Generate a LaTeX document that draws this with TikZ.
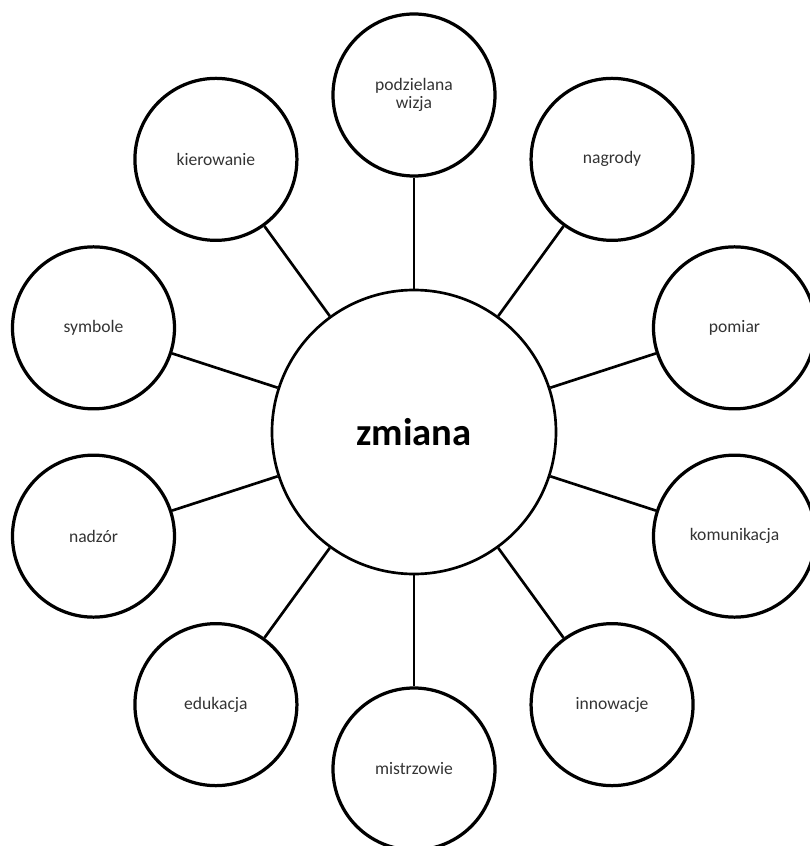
\documentclass[tikz,border=0pt]{standalone}
\usepackage{fontspec}
\setmainfont{Carlito}
\usepackage{tikz}

\begin{document}
\begin{tikzpicture}[-,line width=1.9pt,
  main node/.style={circle,draw,line width=1.9pt,minimum size=7.1cm,inner sep=0pt,font=\fontsize{27.5}{30}\selectfont\bfseries},
  idea node/.style={circle,draw,line width=2.3pt,minimum size=4.05cm,inner sep=0pt,align=center,text=black!80,font=\fontsize{12.5}{13}\selectfont}]
  \useasboundingbox (-10.35,-10.35) rectangle (9.875,10.8);

  \node[main node] (zmiana) at (0,0) {zmiana};
  \node[idea node] (wizja) at (90:8.425) {podzielana\\wizja};
  \node[idea node] (nagrody) at (54:8.425) {nagrody};
  \node[idea node] (pomiar) at (18:8.425) {pomiar};
  \node[idea node] (komunikacja) at (-18:8.425) {komunikacja};
  \node[idea node] (innowacje) at (-54:8.425) {innowacje};
  \node[idea node] (mistrzowie) at (-90:8.425) {mistrzowie};
  \node[idea node] (edukacja) at (-126:8.425) {edukacja};
  \node[idea node] (nadzor) at (-162:8.425) {nadzór};
  \node[idea node] (symbole) at (162:8.425) {symbole};
  \node[idea node] (kierowanie) at (126:8.425) {kierowanie};

  \path
    (zmiana) edge (wizja)
    (zmiana) edge (nagrody)
    (zmiana) edge (pomiar)
    (zmiana) edge (komunikacja)
    (zmiana) edge (innowacje)
    (zmiana) edge (mistrzowie)
    (zmiana) edge (edukacja)
    (zmiana) edge (nadzor)
    (zmiana) edge (symbole)
    (zmiana) edge (kierowanie);
\end{tikzpicture}
\end{document}
